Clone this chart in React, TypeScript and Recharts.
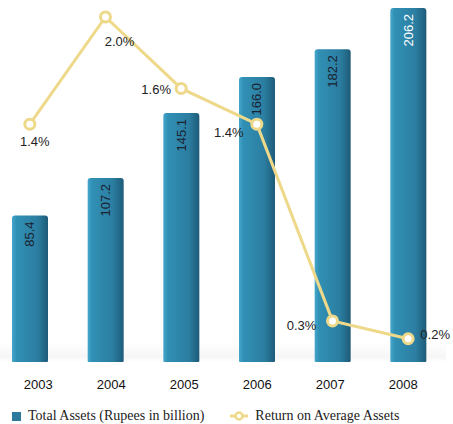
import React from "react";
import {
  Bar,
  ComposedChart,
  LabelList,
  Line,
  ReferenceArea,
  XAxis,
  YAxis
} from "recharts";

const years = ["2003", "2004", "2005", "2006", "2007", "2008"];
const totalAssets = [85.4, 107.2, 145.1, 166.0, 182.2, 206.2];
const returnOnAssets = [1.4, 2.0, 1.6, 1.4, 0.3, 0.2];

const chartData = years.map((year, i) => ({
  year,
  assets: totalAssets[i],
  roa: returnOnAssets[i]
}));

// label offsets for the % labels (dx, dy from the dot)
const roaLabelOffset: [number, number][] = [
  [5, 17],
  [14, 25],
  [-25, 1],
  [-28, 8],
  [-31, 5],
  [27, -4]
];

const lineColor = "#eed98a";
const sans = "'Liberation Sans', Arial, sans-serif";
const serif = "'Liberation Serif', 'Times New Roman', serif";

const BarValueLabel = (props: any) => {
  const { x, y, width, value, index } = props;
  const cx = x + width / 2;
  const top = y + 6;
  return (
    <text
      x={cx}
      y={top}
      transform={`rotate(-90, ${cx}, ${top})`}
      textAnchor="end"
      dominantBaseline="central"
      fontSize={13}
      fontFamily={sans}
      fill={index === totalAssets.length - 1 ? "#ffffff" : "#1b2230"}
    >
      {Number(value).toFixed(1)}
    </text>
  );
};

const RoaLabel = (props: any) => {
  const { x, y, value, index } = props;
  const [dx, dy] = roaLabelOffset[index] ?? [0, 0];
  return (
    <text
      x={x + dx}
      y={y + dy}
      textAnchor="middle"
      dominantBaseline="central"
      fontSize={13}
      fontFamily={sans}
      fill="#222"
    >
      {Number(value).toFixed(1)}%
    </text>
  );
};

const YearTick = (props: any) => {
  const { x, y, payload } = props;
  // tick labels sit slightly closer together than the bars
  const tx = 219 + (x - 219) * 0.965 + 2;
  return (
    <text
      x={tx}
      y={y + 19}
      textAnchor="middle"
      fontSize={13}
      fontFamily={sans}
      fill="#111"
    >
      {payload.value}
    </text>
  );
};

export default function App() {
  return (
    <div
      style={{
        position: "absolute",
        left: 0,
        top: 0,
        width: 453,
        height: 424,
        overflow: "hidden",
        background: "#fff"
      }}
    >
      <div style={{ position: "absolute", left: -8, top: 0 }}>
        <ComposedChart
          width={470}
          height={424}
          data={chartData}
          margin={{ top: 8, right: 16, bottom: 32, left: 0 }}
        >
          <defs>
            <linearGradient id="barFill" x1="0" y1="0" x2="1" y2="0">
              <stop offset="0%" stopColor="#45a6cb" />
              <stop offset="12%" stopColor="#3190b5" />
              <stop offset="70%" stopColor="#2b7ea1" />
              <stop offset="100%" stopColor="#1e5b78" />
            </linearGradient>
            <linearGradient id="floorShade" x1="0" y1="0" x2="0" y2="1">
              <stop offset="0%" stopColor="#000" stopOpacity={0} />
              <stop offset="75%" stopColor="#000" stopOpacity={0.035} />
              <stop offset="100%" stopColor="#000" stopOpacity={0} />
            </linearGradient>
          </defs>
          <XAxis
            dataKey="year"
            axisLine={false}
            tickLine={false}
            height={30}
            tick={<YearTick />}
            interval={0}
          />
          <YAxis yAxisId="left" hide domain={[0, 206.2]} />
          <YAxis
            yAxisId="right"
            orientation="right"
            hide
            type="number"
            domain={[0.07, 2.05]}
            allowDataOverflow
          />
          <ReferenceArea
            yAxisId="left"
            y1={0}
            y2={12}
            fill="url(#floorShade)"
            fillOpacity={1}
            ifOverflow="extendDomain"
          />
          <Bar
            yAxisId="left"
            dataKey="assets"
            barSize={36}
            fill="url(#barFill)"
            radius={[3, 3, 1, 1]}
            isAnimationActive={false}
          >
            <LabelList dataKey="assets" content={<BarValueLabel />} />
          </Bar>
          <Line
            yAxisId="right"
            dataKey="roa"
            type="linear"
            stroke={lineColor}
            strokeWidth={3}
            dot={{ r: 5, fill: "#fff", stroke: lineColor, strokeWidth: 3 }}
            activeDot={false}
            isAnimationActive={false}
          >
            <LabelList dataKey="roa" content={<RoaLabel />} />
          </Line>
        </ComposedChart>
      </div>
      <div
        style={{
          position: "absolute",
          left: 12,
          top: 408,
          display: "flex",
          alignItems: "center",
          fontFamily: serif,
          fontSize: 14,
          color: "#222",
          whiteSpace: "nowrap"
        }}
      >
        <span
          style={{
            display: "inline-block",
            width: 9,
            height: 9,
            background: "#2c7a9c",
            marginRight: 7
          }}
        />
        <span>Total Assets (Rupees in billion)</span>
        <svg width={18} height={12} style={{ marginLeft: 26, marginRight: 7 }}>
          <line x1={0} y1={6} x2={18} y2={6} stroke={lineColor} strokeWidth={3} />
          <circle cx={9} cy={6} r={3.5} fill="#fff" stroke={lineColor} strokeWidth={2.5} />
        </svg>
        <span>Return on Average Assets</span>
      </div>
    </div>
  );
}
